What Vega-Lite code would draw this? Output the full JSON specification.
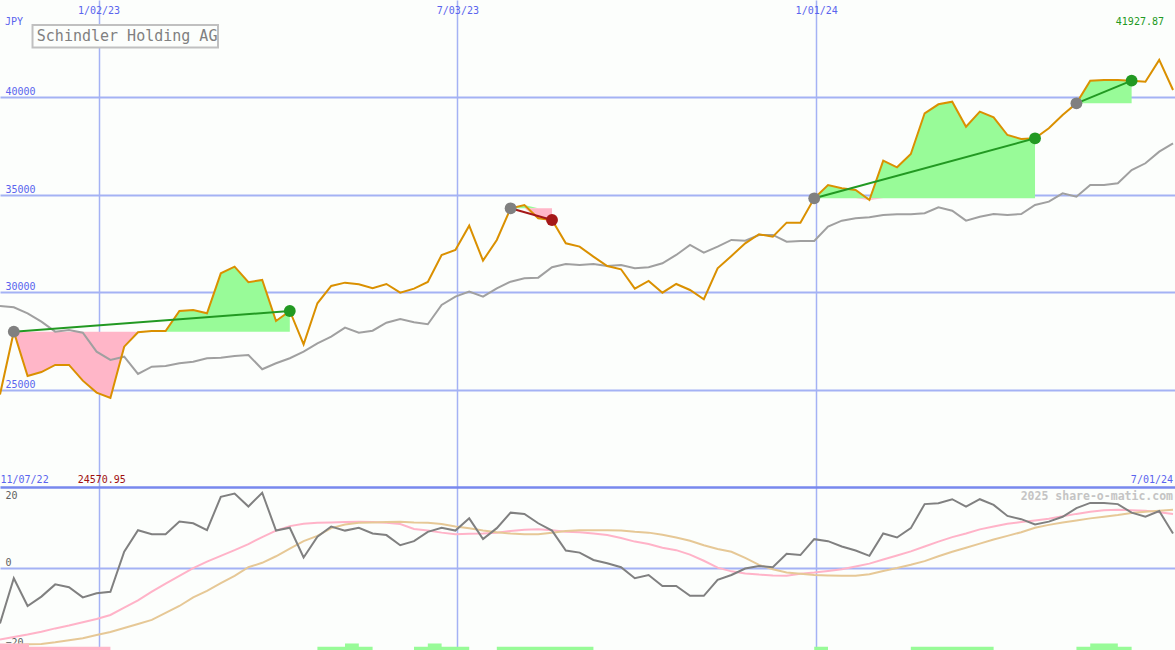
{
  "$schema": "https://vega.github.io/schema/vega-lite/v6.json",
  "width": 1175,
  "height": 650,
  "autosize": "none",
  "padding": 0,
  "background": "#fcfefc",
  "config": {
    "view": {"stroke": null},
    "axis": {"labelFont": "DejaVu Sans Mono", "labelFontSize": 10, "domain": false, "ticks": false, "tickSize": 0}
  },
  "datasets": {
    "w": [
      {"d": "2022-11-13", "p": 24750, "m": 29293, "a": -13.5, "b": -17.4, "c": -19.0},
      {"d": "2022-11-20", "p": 27974, "m": 29226, "a": -2.4, "b": -16.8, "c": -18.8},
      {"d": "2022-11-27", "p": 25700, "m": 28918, "a": -9.2, "b": -16.2, "c": -18.6},
      {"d": "2022-12-04", "p": 25900, "m": 28487, "a": -6.9, "b": -15.5, "c": -18.5},
      {"d": "2022-12-11", "p": 26265, "m": 27974, "a": -3.9, "b": -14.7, "c": -18.1},
      {"d": "2022-12-18", "p": 26265, "m": 28061, "a": -4.6, "b": -14.0, "c": -17.6},
      {"d": "2022-12-25", "p": 25460, "m": 27922, "a": -7.1, "b": -13.2, "c": -17.1},
      {"d": "2023-01-01", "p": 24845, "m": 26947, "a": -6.1, "b": -12.4, "c": -16.3},
      {"d": "2023-01-08", "p": 24571, "m": 26521, "a": -5.7, "b": -11.4, "c": -15.6},
      {"d": "2023-01-15", "p": 27205, "m": 26691, "a": 4.1, "b": -9.6, "c": -14.6},
      {"d": "2023-01-22", "p": 27940, "m": 25802, "a": 9.4, "b": -7.8, "c": -13.6},
      {"d": "2023-01-29", "p": 28010, "m": 26178, "a": 8.4, "b": -5.7, "c": -12.6},
      {"d": "2023-02-05", "p": 28010, "m": 26213, "a": 8.4, "b": -3.7, "c": -10.9},
      {"d": "2023-02-12", "p": 29036, "m": 26351, "a": 11.5, "b": -1.8, "c": -9.2},
      {"d": "2023-02-19", "p": 29088, "m": 26434, "a": 11.1, "b": 0.1, "c": -7.1},
      {"d": "2023-02-26", "p": 28917, "m": 26608, "a": 9.4, "b": 1.7, "c": -5.5},
      {"d": "2023-03-05", "p": 30970, "m": 26639, "a": 17.6, "b": 3.1, "c": -3.6},
      {"d": "2023-03-12", "p": 31310, "m": 26727, "a": 18.4, "b": 4.5, "c": -1.8},
      {"d": "2023-03-19", "p": 30510, "m": 26778, "a": 15.2, "b": 6.0, "c": 0.3},
      {"d": "2023-03-26", "p": 30627, "m": 26044, "a": 18.6, "b": 7.7, "c": 1.4},
      {"d": "2023-04-02", "p": 28523, "m": 26351, "a": 9.3, "b": 9.3, "c": 3.0},
      {"d": "2023-04-09", "p": 29036, "m": 26608, "a": 10.0, "b": 10.4, "c": 4.9},
      {"d": "2023-04-16", "p": 27325, "m": 26947, "a": 2.7, "b": 11.0, "c": 6.7},
      {"d": "2023-04-23", "p": 29430, "m": 27378, "a": 7.8, "b": 11.2, "c": 8.0},
      {"d": "2023-04-30", "p": 30320, "m": 27717, "a": 10.3, "b": 11.3, "c": 9.9},
      {"d": "2023-05-07", "p": 30490, "m": 28179, "a": 9.3, "b": 11.4, "c": 10.8},
      {"d": "2023-05-14", "p": 30405, "m": 27922, "a": 10.0, "b": 11.5, "c": 11.2},
      {"d": "2023-05-21", "p": 30200, "m": 28025, "a": 8.6, "b": 11.4, "c": 11.3},
      {"d": "2023-05-28", "p": 30422, "m": 28435, "a": 8.2, "b": 11.2, "c": 11.4},
      {"d": "2023-06-04", "p": 29976, "m": 28626, "a": 5.7, "b": 10.9, "c": 11.5},
      {"d": "2023-06-11", "p": 30182, "m": 28456, "a": 6.7, "b": 9.7, "c": 11.3},
      {"d": "2023-06-18", "p": 30525, "m": 28353, "a": 9.0, "b": 9.3, "c": 11.2},
      {"d": "2023-06-25", "p": 31910, "m": 29344, "a": 10.0, "b": 8.8, "c": 10.9},
      {"d": "2023-07-02", "p": 32167, "m": 29770, "a": 9.3, "b": 8.4, "c": 10.3},
      {"d": "2023-07-09", "p": 33415, "m": 30027, "a": 12.3, "b": 8.5, "c": 9.9},
      {"d": "2023-07-16", "p": 31620, "m": 29770, "a": 7.2, "b": 8.6, "c": 9.3},
      {"d": "2023-07-23", "p": 32680, "m": 30201, "a": 9.9, "b": 8.8, "c": 8.9},
      {"d": "2023-07-30", "p": 34307, "m": 30540, "a": 13.7, "b": 9.2, "c": 8.6},
      {"d": "2023-08-06", "p": 34477, "m": 30715, "a": 13.4, "b": 9.5, "c": 8.4},
      {"d": "2023-08-13", "p": 33795, "m": 30746, "a": 11.1, "b": 9.6, "c": 8.4},
      {"d": "2023-08-20", "p": 33707, "m": 31280, "a": 9.3, "b": 9.4, "c": 8.8},
      {"d": "2023-08-27", "p": 32510, "m": 31449, "a": 4.4, "b": 9.0, "c": 9.2},
      {"d": "2023-09-03", "p": 32338, "m": 31398, "a": 3.9, "b": 8.9, "c": 9.4},
      {"d": "2023-09-10", "p": 31825, "m": 31449, "a": 2.1, "b": 8.6, "c": 9.4},
      {"d": "2023-09-17", "p": 31347, "m": 31346, "a": 1.3, "b": 8.2, "c": 9.4},
      {"d": "2023-09-24", "p": 31176, "m": 31398, "a": 0.3, "b": 7.5, "c": 9.3},
      {"d": "2023-10-01", "p": 30182, "m": 31228, "a": -2.4, "b": 6.6, "c": 9.0},
      {"d": "2023-10-08", "p": 30576, "m": 31280, "a": -1.6, "b": 6.0, "c": 8.8},
      {"d": "2023-10-15", "p": 29976, "m": 31485, "a": -4.3, "b": 5.1, "c": 8.3},
      {"d": "2023-10-22", "p": 30422, "m": 31911, "a": -4.3, "b": 4.5, "c": 7.6},
      {"d": "2023-10-29", "p": 30114, "m": 32424, "a": -6.7, "b": 3.4, "c": 6.8},
      {"d": "2023-11-05", "p": 29637, "m": 32029, "a": -6.7, "b": 1.9, "c": 5.7},
      {"d": "2023-11-12", "p": 31228, "m": 32337, "a": -2.8, "b": 0.2, "c": 4.8},
      {"d": "2023-11-19", "p": 31860, "m": 32681, "a": -1.6, "b": -0.7, "c": 4.1},
      {"d": "2023-11-26", "p": 32510, "m": 32645, "a": 0.0, "b": -1.2, "c": 2.6},
      {"d": "2023-12-03", "p": 32973, "m": 32938, "a": 0.6, "b": -1.5, "c": 0.9},
      {"d": "2023-12-10", "p": 32850, "m": 32938, "a": 0.3, "b": -1.7, "c": -0.2},
      {"d": "2023-12-17", "p": 33570, "m": 32594, "a": 3.6, "b": -1.8, "c": -1.0},
      {"d": "2023-12-24", "p": 33570, "m": 32630, "a": 3.3, "b": -1.3, "c": -1.3},
      {"d": "2023-12-31", "p": 34820, "m": 32630, "a": 7.2, "b": -1.0, "c": -1.6},
      {"d": "2024-01-07", "p": 35504, "m": 33364, "a": 6.7, "b": -0.6, "c": -1.7},
      {"d": "2024-01-14", "p": 35333, "m": 33672, "a": 5.4, "b": -0.2, "c": -1.8},
      {"d": "2024-01-21", "p": 35247, "m": 33795, "a": 4.4, "b": 0.5, "c": -1.8},
      {"d": "2024-01-28", "p": 34734, "m": 33846, "a": 3.1, "b": 1.2, "c": -1.4},
      {"d": "2024-02-04", "p": 36751, "m": 33964, "a": 8.6, "b": 2.2, "c": -0.6},
      {"d": "2024-02-11", "p": 36410, "m": 34000, "a": 7.6, "b": 3.2, "c": 0.1},
      {"d": "2024-02-18", "p": 37095, "m": 34000, "a": 9.9, "b": 4.2, "c": 0.9},
      {"d": "2024-02-25", "p": 39184, "m": 34051, "a": 15.8, "b": 5.4, "c": 1.8},
      {"d": "2024-03-03", "p": 39646, "m": 34359, "a": 16.0, "b": 6.6, "c": 3.0},
      {"d": "2024-03-10", "p": 39780, "m": 34185, "a": 17.0, "b": 7.7, "c": 4.1},
      {"d": "2024-03-17", "p": 38497, "m": 33672, "a": 15.2, "b": 8.6, "c": 5.1},
      {"d": "2024-03-24", "p": 39270, "m": 33877, "a": 17.0, "b": 9.6, "c": 6.1},
      {"d": "2024-03-31", "p": 38979, "m": 34015, "a": 15.6, "b": 10.3, "c": 7.1},
      {"d": "2024-04-07", "p": 38070, "m": 33964, "a": 12.9, "b": 11.0, "c": 8.0},
      {"d": "2024-04-14", "p": 37865, "m": 34015, "a": 12.1, "b": 11.4, "c": 8.9},
      {"d": "2024-04-21", "p": 37900, "m": 34477, "a": 10.8, "b": 11.8, "c": 10.0},
      {"d": "2024-04-28", "p": 38414, "m": 34647, "a": 11.5, "b": 12.2, "c": 10.7},
      {"d": "2024-05-05", "p": 39097, "m": 35078, "a": 12.7, "b": 12.8, "c": 11.3},
      {"d": "2024-05-12", "p": 39697, "m": 34903, "a": 14.8, "b": 13.4, "c": 11.8},
      {"d": "2024-05-19", "p": 40860, "m": 35504, "a": 16.1, "b": 13.9, "c": 12.3},
      {"d": "2024-05-26", "p": 40894, "m": 35504, "a": 16.1, "b": 14.3, "c": 12.7},
      {"d": "2024-06-02", "p": 40894, "m": 35591, "a": 15.8, "b": 14.4, "c": 13.1},
      {"d": "2024-06-09", "p": 40860, "m": 36274, "a": 13.7, "b": 14.3, "c": 13.6},
      {"d": "2024-06-16", "p": 40806, "m": 36618, "a": 12.7, "b": 14.2, "c": 13.9},
      {"d": "2024-06-23", "p": 41928, "m": 37213, "a": 14.1, "b": 13.8, "c": 14.2},
      {"d": "2024-06-30", "p": 40380, "m": 37644, "a": 8.6, "b": 13.4, "c": 14.4}
    ],
    "f": [
      {"s": 1, "d": "2022-11-20", "base": 27974, "up": 27974, "dn": 27974},
      {"s": 1, "d": "2022-11-27", "base": 27974, "up": 27974, "dn": 25700},
      {"s": 1, "d": "2022-12-04", "base": 27974, "up": 27974, "dn": 25900},
      {"s": 1, "d": "2022-12-11", "base": 27974, "up": 27974, "dn": 26265},
      {"s": 1, "d": "2022-12-18", "base": 27974, "up": 27974, "dn": 26265},
      {"s": 1, "d": "2022-12-25", "base": 27974, "up": 27974, "dn": 25460},
      {"s": 1, "d": "2023-01-01", "base": 27974, "up": 27974, "dn": 24845},
      {"s": 1, "d": "2023-01-08", "base": 27974, "up": 27974, "dn": 24571},
      {"s": 1, "d": "2023-01-15", "base": 27974, "up": 27974, "dn": 27205},
      {"s": 1, "d": "2023-01-22", "base": 27974, "up": 27974, "dn": 27940},
      {"s": 1, "d": "2023-01-29", "base": 27974, "up": 28010, "dn": 27974},
      {"s": 1, "d": "2023-02-05", "base": 27974, "up": 28010, "dn": 27974},
      {"s": 1, "d": "2023-02-12", "base": 27974, "up": 29036, "dn": 27974},
      {"s": 1, "d": "2023-02-19", "base": 27974, "up": 29088, "dn": 27974},
      {"s": 1, "d": "2023-02-26", "base": 27974, "up": 28917, "dn": 27974},
      {"s": 1, "d": "2023-03-05", "base": 27974, "up": 30970, "dn": 27974},
      {"s": 1, "d": "2023-03-12", "base": 27974, "up": 31310, "dn": 27974},
      {"s": 1, "d": "2023-03-19", "base": 27974, "up": 30510, "dn": 27974},
      {"s": 1, "d": "2023-03-26", "base": 27974, "up": 30627, "dn": 27974},
      {"s": 1, "d": "2023-04-02", "base": 27974, "up": 28523, "dn": 27974},
      {"s": 1, "d": "2023-04-09", "base": 27974, "up": 29036, "dn": 27974},
      {"s": 2, "d": "2023-07-30", "base": 34307, "up": 34307, "dn": 34307},
      {"s": 2, "d": "2023-08-06", "base": 34307, "up": 34477, "dn": 34307},
      {"s": 2, "d": "2023-08-13", "base": 34307, "up": 34307, "dn": 33795},
      {"s": 2, "d": "2023-08-20", "base": 34307, "up": 34307, "dn": 33707},
      {"s": 3, "d": "2023-12-31", "base": 34820, "up": 34820, "dn": 34820},
      {"s": 3, "d": "2024-01-07", "base": 34820, "up": 35504, "dn": 34820},
      {"s": 3, "d": "2024-01-14", "base": 34820, "up": 35333, "dn": 34820},
      {"s": 3, "d": "2024-01-21", "base": 34820, "up": 35247, "dn": 34820},
      {"s": 3, "d": "2024-01-28", "base": 34820, "up": 34820, "dn": 34734},
      {"s": 3, "d": "2024-02-04", "base": 34820, "up": 36751, "dn": 34820},
      {"s": 3, "d": "2024-02-11", "base": 34820, "up": 36410, "dn": 34820},
      {"s": 3, "d": "2024-02-18", "base": 34820, "up": 37095, "dn": 34820},
      {"s": 3, "d": "2024-02-25", "base": 34820, "up": 39184, "dn": 34820},
      {"s": 3, "d": "2024-03-03", "base": 34820, "up": 39646, "dn": 34820},
      {"s": 3, "d": "2024-03-10", "base": 34820, "up": 39780, "dn": 34820},
      {"s": 3, "d": "2024-03-17", "base": 34820, "up": 38497, "dn": 34820},
      {"s": 3, "d": "2024-03-24", "base": 34820, "up": 39270, "dn": 34820},
      {"s": 3, "d": "2024-03-31", "base": 34820, "up": 38979, "dn": 34820},
      {"s": 3, "d": "2024-04-07", "base": 34820, "up": 38070, "dn": 34820},
      {"s": 3, "d": "2024-04-14", "base": 34820, "up": 37865, "dn": 34820},
      {"s": 3, "d": "2024-04-21", "base": 34820, "up": 37900, "dn": 34820},
      {"s": 4, "d": "2024-05-12", "base": 39697, "up": 39697, "dn": 39697},
      {"s": 4, "d": "2024-05-19", "base": 39697, "up": 40860, "dn": 39697},
      {"s": 4, "d": "2024-05-26", "base": 39697, "up": 40894, "dn": 39697},
      {"s": 4, "d": "2024-06-02", "base": 39697, "up": 40894, "dn": 39697},
      {"s": 4, "d": "2024-06-09", "base": 39697, "up": 40860, "dn": 39697}
    ],
    "tr": [
      {"s": 1, "d": "2022-11-20", "v": 27974, "r": "entry", "o": "win"},
      {"s": 1, "d": "2023-04-09", "v": 29036, "r": "win", "o": "win"},
      {"s": 2, "d": "2023-07-30", "v": 34307, "r": "entry", "o": "loss"},
      {"s": 2, "d": "2023-08-20", "v": 33707, "r": "loss", "o": "loss"},
      {"s": 3, "d": "2023-12-31", "v": 34820, "r": "entry", "o": "win"},
      {"s": 3, "d": "2024-04-21", "v": 37900, "r": "win", "o": "win"},
      {"s": 4, "d": "2024-05-12", "v": 39697, "r": "entry", "o": "win"},
      {"s": 4, "d": "2024-06-09", "v": 40860, "r": "win", "o": "win"}
    ],
    "bars": [
      {"d": "2022-11-13", "d2": "2023-01-08", "h": -19.2, "k": "r"},
      {"d": "2022-11-13", "d2": "2022-11-27T17:00:00Z", "h": -18.4, "k": "r"},
      {"d": "2023-04-23", "d2": "2023-05-21", "h": -19.2, "k": "g"},
      {"d": "2023-05-07", "d2": "2023-05-14", "h": -18.4, "k": "g"},
      {"d": "2023-06-11", "d2": "2023-07-09", "h": -19.2, "k": "g"},
      {"d": "2023-06-18", "d2": "2023-06-25", "h": -18.4, "k": "g"},
      {"d": "2023-07-23", "d2": "2023-09-10", "h": -19.2, "k": "g"},
      {"d": "2023-12-31", "d2": "2024-01-07", "h": -19.2, "k": "g"},
      {"d": "2024-02-18", "d2": "2024-03-31", "h": -19.2, "k": "g"},
      {"d": "2024-05-12", "d2": "2024-06-09", "h": -19.2, "k": "g"},
      {"d": "2024-05-19", "d2": "2024-06-02", "h": -18.4, "k": "g"}
    ]
  },
  "encoding": {
    "x": {
      "field": "d", "type": "temporal", "title": null,
      "scale": {"type": "utc", "domain": [{"year": 2022, "month": 11, "date": 13, "utc": true}, {"year": 2024, "month": 7, "date": 1, "utc": true}]},
      "axis": {
        "orient": "top", "title": null,
        "values": [{"year": 2023, "month": 1, "date": 2, "utc": true}, {"year": 2023, "month": 7, "date": 3, "utc": true}, {"year": 2024, "month": 1, "date": 1, "utc": true}],
        "labelExpr": "utcFormat(datum.value, '%-m/%d/%y')",
        "labelPadding": -13, "labelBaseline": "alphabetic", "labelColor": "#5a64ee", "labelFlush": false,
        "grid": true, "gridColor": "#a4b2f4", "gridWidth": 1.5
      }
    }
  },
  "layer": [
    {
      "layer": [
        {
          "data": {"name": "f"},
          "mark": {"type": "area", "color": "#98fb98", "opacity": 1},
          "encoding": {
            "detail": {"field": "s"},
            "y": {"field": "up", "type": "quantitative", "title": null, "scale": {"domain": [11632, 45000], "nice": false, "zero": false},
              "axis": {"orient": "left", "title": null, "values": [25000, 30000, 35000, 40000], "format": "d", "labelAlign": "left", "labelPadding": -5, "labelBaseline": "alphabetic", "labelOffset": -2.5, "labelColor": "#5a64ee", "grid": true, "gridColor": "#a4b2f4", "gridWidth": 2}},
            "y2": {"field": "base"}
          }
        },
        {
          "data": {"name": "f"},
          "mark": {"type": "area", "color": "#ffb6c8", "opacity": 1},
          "encoding": {
            "detail": {"field": "s"},
            "y": {"field": "dn", "type": "quantitative", "title": null, "scale": {"domain": [11632, 45000], "nice": false, "zero": false}},
            "y2": {"field": "base"}
          }
        },
        {
          "data": {"name": "w"},
          "mark": {"type": "line", "color": "#a0a0a0", "strokeWidth": 2},
          "encoding": {
            "y": {"field": "m", "type": "quantitative", "title": null, "scale": {"domain": [11632, 45000], "nice": false, "zero": false}}
          }
        },
        {
          "data": {"name": "w"},
          "mark": {"type": "line", "color": "#da9000", "strokeWidth": 2},
          "encoding": {
            "y": {"field": "p", "type": "quantitative", "title": null, "scale": {"domain": [11632, 45000], "nice": false, "zero": false}}
          }
        },
        {
          "data": {"name": "tr"},
          "mark": {"type": "line", "strokeWidth": 2},
          "encoding": {
            "detail": {"field": "s"},
            "color": {"field": "o", "type": "nominal", "scale": {"domain": ["entry", "win", "loss"], "range": ["#808080", "#229922", "#a51818"]}, "legend": null},
            "y": {"field": "v", "type": "quantitative", "title": null, "scale": {"domain": [11632, 45000], "nice": false, "zero": false}}
          }
        },
        {
          "data": {"name": "tr"},
          "mark": {"type": "circle", "size": 140, "opacity": 1},
          "encoding": {
            "color": {"field": "r", "type": "nominal", "scale": {"domain": ["entry", "win", "loss"], "range": ["#808080", "#229922", "#a51818"]}, "legend": null},
            "y": {"field": "v", "type": "quantitative", "title": null, "scale": {"domain": [11632, 45000], "nice": false, "zero": false}}
          }
        },
        {
          "data": {"values": [{"d": "2022-11-29T12:00:00Z", "d2": "2023-03-03T14:00:00Z", "v1": 43717, "v2": 42562}]},
          "mark": {"type": "rect", "fill": "#fcfefc", "stroke": "#c0c0c0", "strokeWidth": 2},
          "encoding": {
            "x2": {"field": "d2"},
            "y": {"field": "v1", "type": "quantitative", "title": null, "scale": {"domain": [11632, 45000], "nice": false, "zero": false}},
            "y2": {"field": "v2"}
          }
        },
        {
          "data": {"values": [{"d": "2022-12-01T16:00:00Z", "v": 42870, "t": "Schindler Holding AG"}]},
          "mark": {"type": "text", "align": "left", "baseline": "alphabetic", "font": "DejaVu Sans Mono", "fontSize": 15, "color": "#808080"},
          "encoding": {
            "y": {"field": "v", "type": "quantitative", "title": null, "scale": {"domain": [11632, 45000], "nice": false, "zero": false}},
            "text": {"field": "t"}
          }
        },
        {
          "data": {"values": [
            {"d": "2022-11-15T13:00:00Z", "v": 43717, "t": "JPY"},
            {"d": "2022-11-13T06:00:00Z", "v": 20223, "t": "11/07/22"}
          ]},
          "mark": {"type": "text", "align": "left", "baseline": "alphabetic", "font": "DejaVu Sans Mono", "fontSize": 10, "color": "#5a64ee"},
          "encoding": {
            "y": {"field": "v", "type": "quantitative", "title": null, "scale": {"domain": [11632, 45000], "nice": false, "zero": false}},
            "text": {"field": "t"}
          }
        },
        {
          "data": {"values": [{"d": "2024-06-30T00:00:00Z", "v": 20223, "t": "7/01/24"}]},
          "mark": {"type": "text", "align": "right", "baseline": "alphabetic", "font": "DejaVu Sans Mono", "fontSize": 10, "color": "#5a64ee"},
          "encoding": {
            "y": {"field": "v", "type": "quantitative", "title": null, "scale": {"domain": [11632, 45000], "nice": false, "zero": false}},
            "text": {"field": "t"}
          }
        },
        {
          "data": {"values": [{"d": "2022-12-22T10:00:00Z", "v": 20223, "t": "24570.95"}]},
          "mark": {"type": "text", "align": "left", "baseline": "alphabetic", "font": "DejaVu Sans Mono", "fontSize": 10, "color": "#a01010"},
          "encoding": {
            "y": {"field": "v", "type": "quantitative", "title": null, "scale": {"domain": [11632, 45000], "nice": false, "zero": false}},
            "text": {"field": "t"}
          }
        },
        {
          "data": {"values": [{"d": "2024-06-25T10:00:00Z", "v": 43717, "t": "41927.87"}]},
          "mark": {"type": "text", "align": "right", "baseline": "alphabetic", "font": "DejaVu Sans Mono", "fontSize": 10, "color": "#229922"},
          "encoding": {
            "y": {"field": "v", "type": "quantitative", "title": null, "scale": {"domain": [11632, 45000], "nice": false, "zero": false}},
            "text": {"field": "t"}
          }
        }
      ]
    },
    {
      "layer": [
        {
          "data": {"name": "w"},
          "mark": {"type": "line", "color": "#ffb3c8", "strokeWidth": 2},
          "encoding": {
            "y": {"field": "b", "type": "quantitative", "title": null, "scale": {"domain": [-20, 139.5], "nice": false, "zero": false},
              "axis": {"orient": "right", "title": null, "values": [-20, 0, 20], "labelAlign": "left", "labelPadding": -1170, "labelBaseline": "alphabetic",
                "labelOffset": {"condition": [{"test": "datum.value == 20", "value": 12}, {"test": "datum.value == -20", "value": -5}], "value": -3},
                "labelColor": "#606060", "grid": true,
                "gridColor": {"condition": {"test": "datum.value == 20", "value": "#7888ee"}, "value": "#a4b2f4"},
                "gridWidth": {"condition": {"test": "datum.value == 20", "value": 2.5}, "value": 2},
                "gridOpacity": {"condition": {"test": "datum.value == -20", "value": 0}, "value": 1}}}
          }
        },
        {
          "data": {"name": "w"},
          "mark": {"type": "line", "color": "#e6c896", "strokeWidth": 2},
          "encoding": {
            "y": {"field": "c", "type": "quantitative", "title": null, "scale": {"domain": [-20, 139.5], "nice": false, "zero": false}}
          }
        },
        {
          "data": {"name": "w"},
          "mark": {"type": "line", "color": "#808080", "strokeWidth": 2},
          "encoding": {
            "y": {"field": "a", "type": "quantitative", "title": null, "scale": {"domain": [-20, 139.5], "nice": false, "zero": false}}
          }
        },
        {
          "data": {"name": "bars"},
          "transform": [{"filter": "datum.k == 'g'"}],
          "mark": {"type": "rect", "color": "#98fb98"},
          "encoding": {
            "x2": {"field": "d2"},
            "y": {"field": "h", "type": "quantitative", "title": null, "scale": {"domain": [-20, 139.5], "nice": false, "zero": false}},
            "y2": {"datum": -20}
          }
        },
        {
          "data": {"name": "bars"},
          "transform": [{"filter": "datum.k == 'r'"}],
          "mark": {"type": "rect", "color": "#ffb6c8"},
          "encoding": {
            "x2": {"field": "d2"},
            "y": {"field": "h", "type": "quantitative", "title": null, "scale": {"domain": [-20, 139.5], "nice": false, "zero": false}},
            "y2": {"datum": -20}
          }
        },
        {
          "data": {"values": [{"d": "2024-06-30T00:00:00Z", "v": 16.8, "t": "2025 share-o-matic.com"}]},
          "mark": {"type": "text", "align": "right", "baseline": "alphabetic", "font": "DejaVu Sans Mono", "fontSize": 11.5, "fontWeight": "bold", "color": "#c4c4c4"},
          "encoding": {
            "y": {"field": "v", "type": "quantitative", "title": null, "scale": {"domain": [-20, 139.5], "nice": false, "zero": false}},
            "text": {"field": "t"}
          }
        }
      ]
    }
  ],
  "resolve": {"scale": {"y": "independent"}}
}
